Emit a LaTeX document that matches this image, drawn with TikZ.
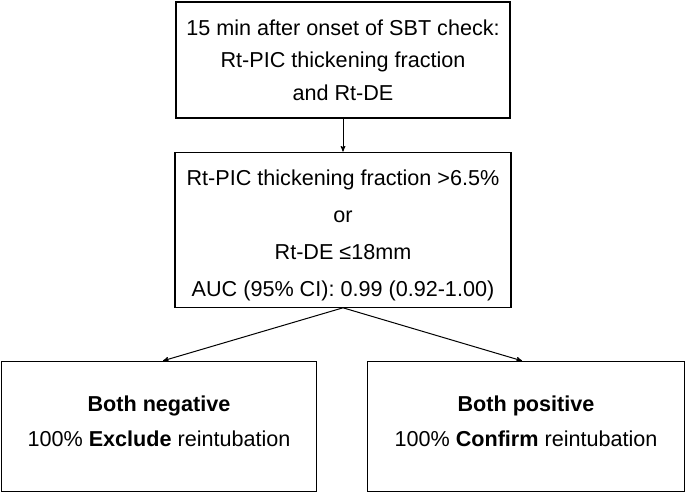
\documentclass[tikz,border=0pt]{standalone}
\usepackage{fontspec}
\setmainfont{Liberation Sans}
\usetikzlibrary{arrows,positioning}

\begin{document}
\begin{tikzpicture}[>=stealth',x=1pt,y=-1pt,node distance=33pt,
    box/.style={draw,line width=1.2pt,align=center,inner sep=0pt,
      font=\fontsize{21.6pt}{32.5pt}\selectfont}]
    \useasboundingbox (0,0) rectangle (685,494);
    \node[box,minimum width=334pt,minimum height=116pt] at (343,60) (check){15 min after onset of SBT check:\\Rt-PIC thickening fraction\\and Rt-DE};
    \node[box,minimum width=336pt,minimum height=155pt,
      font=\fontsize{21.6pt}{37pt}\selectfont] [below=of check](crit){\rule{0pt}{27pt}Rt-PIC thickening fraction >6.5\%\\or\\Rt-DE ≤18mm\\AUC (95\% CI): 0.99 (0.92-1.00)};
    \node[box,minimum width=315pt,minimum height=130pt,
      font=\fontsize{21.6pt}{35pt}\selectfont] [below=53pt of crit,xshift=-184pt](neg){\textbf{Both negative}\\100\% \textbf{Exclude} reintubation\rule[-11pt]{0pt}{11pt}};
    \node[box,minimum width=317pt,minimum height=130pt,
      font=\fontsize{21.6pt}{35pt}\selectfont] [below=53pt of crit,xshift=183pt](pos){\textbf{Both positive}\\100\% \textbf{Confirm} reintubation\rule[-11pt]{0pt}{11pt}};

    \path[->,line width=1pt]
      (check) edge (crit)
      (crit.south)
        edge ([xshift=4pt]neg.north)
        edge ([xshift=-4pt]pos.north)
    ;
\end{tikzpicture}
\end{document}
